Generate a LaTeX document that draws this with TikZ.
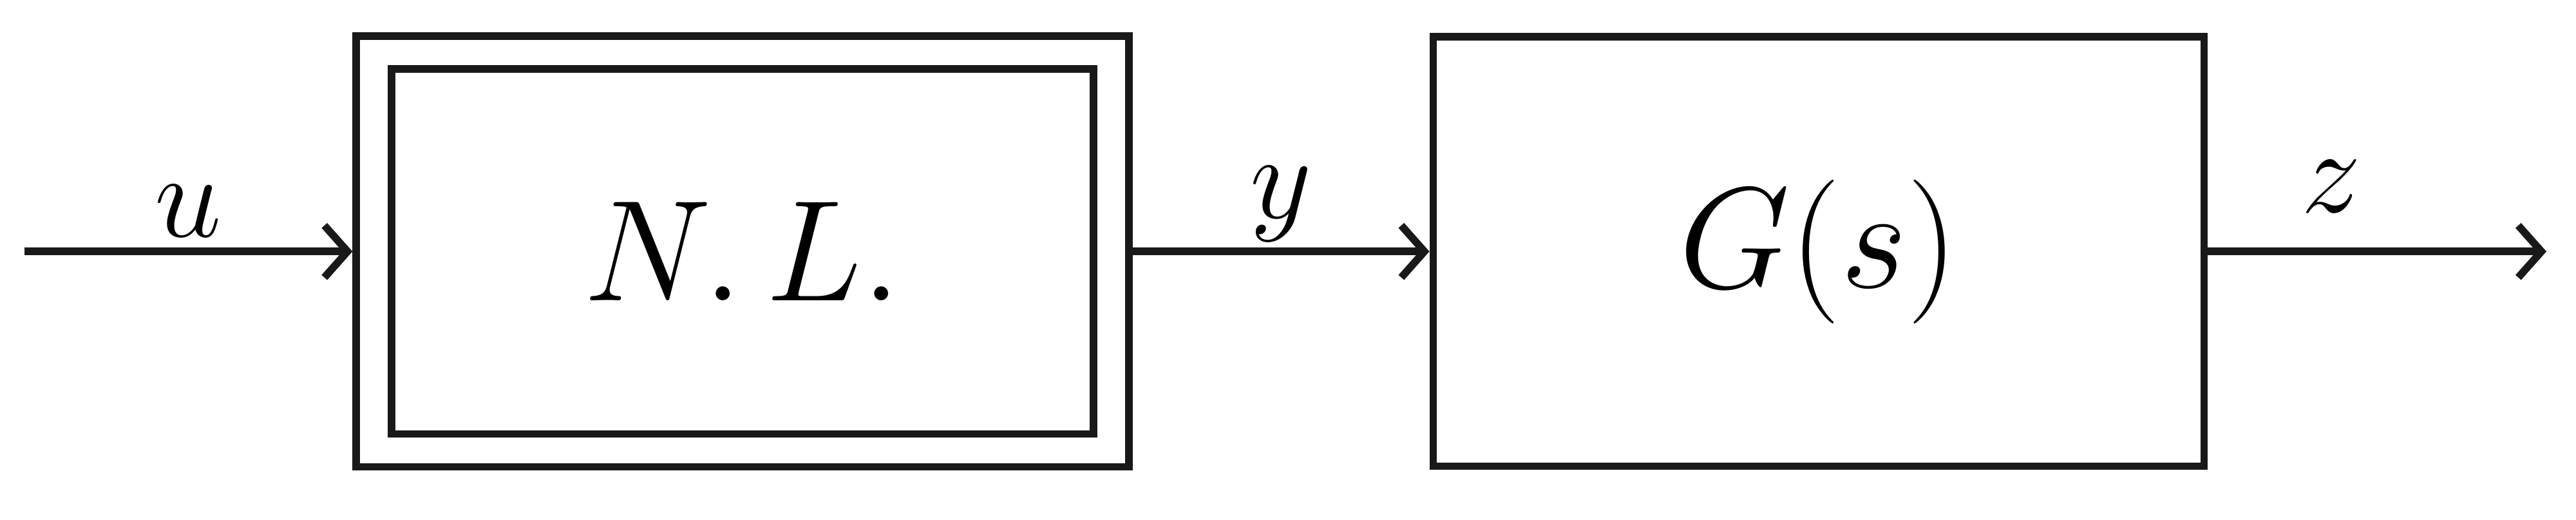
\documentclass[tikz,border=0pt]{standalone}
\usetikzlibrary{positioning, arrows.meta}
\tikzstyle{block} = [rectangle, draw=black!90, line width=1.3pt, inner sep=0pt]
\tikzstyle{arrow} = [line width=1.3pt, draw=black!90, -{Straight Barb[length=4pt,width=9pt]}]
\tikzstyle{sig} = [font=\fontsize{21}{25}\selectfont]

\begin{document}
\begin{tikzpicture}[x=0.01cm, y=-0.01cm]
    \useasboundingbox (0,0) rectangle (1568,316);
    \node (nlout) [block, minimum width=4.7cm, minimum height=2.62cm] at (452,153) {};
    \node (nl) [block, minimum width=4.27cm, minimum height=2.22cm, font=\fontsize{28}{32}\selectfont] at (452,153) {$N.\,L.$};
    \node (plant) [block, minimum width=4.69cm, minimum height=2.61cm, font=\fontsize{29}{33}\selectfont] at (1107,153) {$G(s)$};
    \coordinate (in) at (15,153);
    \coordinate (out) at (1550,153);
    \draw [arrow] (in) -- node[sig, above=0pt, yshift=-0.05cm] {$u$} (nlout.west);
    \draw [arrow] (nlout.east) -- node[sig, above=0pt, yshift=-0.08cm] {$y$} (plant.west);
    \draw [arrow] (plant.east) -- node[sig, above=0pt, xshift=-0.28cm, yshift=0.1cm] {$z$} (out);
\end{tikzpicture}
\end{document}
